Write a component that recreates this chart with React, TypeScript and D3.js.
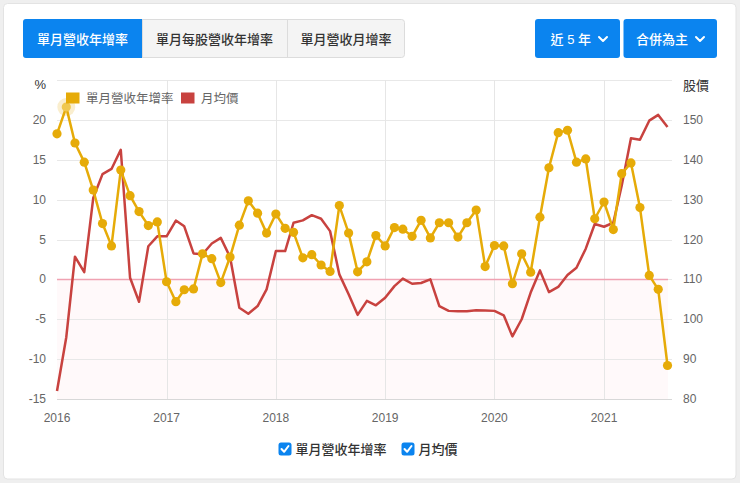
import React, { useEffect, useRef } from 'react';
import * as d3 from 'd3';

// 單月營收年增率 (%), Jan 2016 - Aug 2021
const revenueYoY = [
  18.25, 21.6, 17.1, 14.7, 11.2, 7.0, 4.2, 13.7, 10.5, 8.5, 6.75, 7.2,
  -0.3, -2.8, -1.3, -1.2, 3.2, 2.6, -0.4, 2.8, 6.8, 9.85, 8.3, 5.8,
  8.2, 6.4, 5.9, 2.7, 3.1, 1.8, 1.0, 9.25, 5.8, 0.95, 2.2, 5.5,
  4.2, 6.5, 6.3, 5.4, 7.4, 5.2, 7.1, 7.1, 5.3, 7.1, 8.7, 1.6,
  4.25, 4.2, -0.55, 3.2, 0.9, 7.8, 14.0, 18.4, 18.7, 14.7, 15.1, 7.6,
  9.7, 6.25, 13.25, 14.6, 9.0, 0.5, -1.25, -10.8,
];

// 月均價, Jan 2016 - Aug 2021
const monthlyPrice = [
  82, 95.5, 115.7, 111.8, 130.4, 136.4, 137.7, 142.5, 110.4, 104.4, 118.3, 120.8,
  120.8, 124.75, 123.3, 116.5, 116.3, 119, 120.4, 115.6, 102.9, 101.4, 103.3, 107.5,
  117.1, 117.1, 124.2, 124.8, 126.1, 125.2, 122.1, 111.25, 106.25, 101.1, 104.6, 103.5,
  105.4, 108.3, 110.2, 108.9, 109.1, 110, 103.3, 102.1, 102, 102, 102.25, 102.2,
  102.1, 101, 95.7, 100, 106.7, 112.25, 106.8, 108.1, 111.1, 112.9, 117.7, 123.9,
  123.2, 124.2, 133.5, 145.4, 145, 149.8, 151.25, 148.2,
];

const months = d3.timeMonth.range(new Date(2016, 0, 1), new Date(2021, 8, 1));
const yearTicks = [2016, 2017, 2018, 2019, 2020, 2021];
const leftTicks = [-15, -10, -5, 0, 5, 10, 15, 20];
const rightTicks = [80, 90, 100, 110, 120, 130, 140, 150];
const tabLabels = ['單月營收年增率', '單月每股營收年增率', '單月營收月增率'];
const dropdownLabels = ['近 5 年', '合併為主'];
const seriesNames = ['單月營收年增率', '月均價'];

const YELLOW = '#e6ab08';
const RED = '#c8423f';
const BLUE = '#0b84ef';
const FONT = "'Liberation Sans', 'Noto Sans CJK TC', sans-serif";

const App = () => {
  const svgRef = useRef<SVGSVGElement | null>(null);

  const W = 740;
  const H = 483;
  const plot = { left: 57, right: 668, top: 80, bottom: 399 };

  useEffect(() => {
    if (!svgRef.current) return;
    const svg = d3.select(svgRef.current);
    svg.selectAll('*').remove();
    svg.attr('font-family', FONT);

    // page + card
    svg.append('rect').attr('width', W).attr('height', H).attr('fill', '#efefef');
    svg
      .append('rect')
      .attr('x', 3.5)
      .attr('y', 3.5)
      .attr('width', 732.5)
      .attr('height', 475.5)
      .attr('rx', 4)
      .attr('fill', '#fff')
      .attr('stroke', '#e3e3e3');

    // tabs
    const tabEdges = [23, 142, 287, 405];
    const tabs = svg.append('g');
    tabs
      .append('rect')
      .attr('x', tabEdges[0] + 0.5)
      .attr('y', 19.5)
      .attr('width', tabEdges[3] - tabEdges[0] - 1)
      .attr('height', 38)
      .attr('rx', 3)
      .attr('fill', '#f4f4f4')
      .attr('stroke', '#dcdcdc');
    tabLabels.forEach((label, i) => {
      const x0 = tabEdges[i];
      const x1 = tabEdges[i + 1];
      if (i === 0) {
        tabs
          .append('path')
          .attr('d', `M${x0 + 3},19 H${x1} V58 H${x0 + 3} Q${x0},58 ${x0},55 V22 Q${x0},19 ${x0 + 3},19 Z`)
          .attr('fill', BLUE);
      } else {
        tabs
          .append('line')
          .attr('x1', x0 + 0.5)
          .attr('x2', x0 + 0.5)
          .attr('y1', 20)
          .attr('y2', 57)
          .attr('stroke', '#dcdcdc');
      }
      tabs
        .append('text')
        .attr('x', (x0 + x1) / 2)
        .attr('y', 39)
        .attr('text-anchor', 'middle')
        .attr('dominant-baseline', 'central')
        .attr('font-size', 13)
        .attr('font-weight', 500)
        .attr('fill', i === 0 ? '#fff' : '#333')
        .text(label);
    });

    // dropdowns
    const dropEdges = [
      [535, 620],
      [623.5, 717],
    ];
    dropdownLabels.forEach((label, i) => {
      const [x0, x1] = dropEdges[i];
      const g = svg.append('g');
      g.append('rect')
        .attr('x', x0)
        .attr('y', 19)
        .attr('width', x1 - x0)
        .attr('height', 39)
        .attr('rx', 3)
        .attr('fill', BLUE);
      const cx = x1 - 17;
      g.append('text')
        .attr('x', cx - 12)
        .attr('y', 39)
        .attr('text-anchor', 'end')
        .attr('dominant-baseline', 'central')
        .attr('font-size', 13)
        .attr('font-weight', 500)
        .attr('fill', '#fff')
        .text(label);
      g.append('path')
        .attr('d', `M${cx - 4},37 L${cx},41 L${cx + 4},37`)
        .attr('fill', 'none')
        .attr('stroke', '#fff')
        .attr('stroke-width', 2)
        .attr('stroke-linecap', 'round')
        .attr('stroke-linejoin', 'round');
    });

    // scales
    const x = d3
      .scaleTime()
      .domain([months[0], months[months.length - 1]])
      .range([plot.left, plot.right - 0.5]);
    const yLeft = d3.scaleLinear().domain([-15, 25]).range([plot.bottom, plot.top]);
    const yRight = d3.scaleLinear().domain([80, 160]).range([plot.bottom, plot.top]);

    const chart = svg.append('g');

    // negative zone fill
    chart
      .append('rect')
      .attr('x', plot.left)
      .attr('y', yLeft(0))
      .attr('width', plot.right - plot.left)
      .attr('height', plot.bottom - yLeft(0))
      .attr('fill', 'rgba(255, 80, 120, 0.035)');

    // horizontal grid
    chart
      .selectAll('line.hgrid')
      .data([...leftTicks, 25])
      .enter()
      .append('line')
      .attr('class', 'hgrid')
      .attr('x1', plot.left)
      .attr('x2', plot.right + 4)
      .attr('y1', (d) => Math.round(yLeft(d)) + 0.5)
      .attr('y2', (d) => Math.round(yLeft(d)) + 0.5)
      .attr('stroke', (d) => (d === -15 ? '#d8d8d8' : '#e8e8e8'))
      .attr('stroke-width', 1);

    // vertical year grid
    chart
      .selectAll('line.vgrid')
      .data(yearTicks.slice(1))
      .enter()
      .append('line')
      .attr('class', 'vgrid')
      .attr('x1', (d) => Math.round(x(new Date(d, 0, 1))) + 0.5)
      .attr('x2', (d) => Math.round(x(new Date(d, 0, 1))) + 0.5)
      .attr('y1', plot.top)
      .attr('y2', plot.bottom)
      .attr('stroke', '#e6e6e6');

    // zero line
    chart
      .append('line')
      .attr('x1', plot.left)
      .attr('x2', plot.right)
      .attr('y1', yLeft(0))
      .attr('y2', yLeft(0))
      .attr('stroke', '#f0a2b2')
      .attr('stroke-width', 1.5);

    // axis labels
    const tickStyle = (sel: d3.Selection<SVGTextElement, any, any, any>) =>
      sel.attr('font-size', 12).attr('fill', '#666');

    chart
      .selectAll('text.lt')
      .data(leftTicks)
      .enter()
      .append('text')
      .attr('class', 'lt')
      .attr('x', 46)
      .attr('y', (d) => yLeft(d) + 4)
      .attr('text-anchor', 'end')
      .text((d) => String(d))
      .call(tickStyle);
    chart
      .append('text')
      .attr('x', 46)
      .attr('y', 89)
      .attr('text-anchor', 'end')
      .text('%')
      .call(tickStyle)
      .attr('font-size', 13)
      .attr('fill', '#333');

    chart
      .selectAll('text.rt')
      .data(rightTicks)
      .enter()
      .append('text')
      .attr('class', 'rt')
      .attr('x', 683)
      .attr('y', (d) => yRight(d) + 4)
      .text((d) => String(d))
      .call(tickStyle);
    chart
      .append('text')
      .attr('x', 683)
      .attr('y', 90)
      .text('股價')
      .call(tickStyle)
      .attr('font-size', 13)
      .attr('fill', '#333');

    chart
      .selectAll('text.xt')
      .data(yearTicks)
      .enter()
      .append('text')
      .attr('class', 'xt')
      .attr('x', (d) => x(new Date(d, 0, 1)))
      .attr('y', 422)
      .attr('text-anchor', 'middle')
      .text((d) => String(d))
      .call(tickStyle);

    // price line
    const priceLine = d3
      .line<number>()
      .x((_, i) => x(months[i]))
      .y((d) => yRight(d));
    chart
      .append('path')
      .datum(monthlyPrice)
      .attr('d', priceLine)
      .attr('fill', 'none')
      .attr('stroke', RED)
      .attr('stroke-width', 2.5)
      .attr('stroke-linejoin', 'round');

    // revenue yoy line + markers
    const yoyLine = d3
      .line<number>()
      .x((_, i) => x(months[i]))
      .y((d) => yLeft(d));
    chart
      .append('path')
      .datum(revenueYoY)
      .attr('d', yoyLine)
      .attr('fill', 'none')
      .attr('stroke', YELLOW)
      .attr('stroke-width', 2.5)
      .attr('stroke-linejoin', 'round');

    const peak = d3.maxIndex(revenueYoY);
    chart
      .append('circle')
      .attr('cx', x(months[peak]))
      .attr('cy', yLeft(revenueYoY[peak]))
      .attr('r', 9)
      .attr('fill', YELLOW)
      .attr('opacity', 0.2);

    chart
      .selectAll('circle.pt')
      .data(revenueYoY)
      .enter()
      .append('circle')
      .attr('class', 'pt')
      .attr('cx', (_, i) => x(months[i]))
      .attr('cy', (d) => yLeft(d))
      .attr('r', 4.6)
      .attr('fill', (_, i) => (i === peak ? '#f0c850' : YELLOW));

    // legend
    const legend = svg.append('g');
    const legendItems = [
      { name: seriesNames[0], color: YELLOW, x: 66 },
      { name: seriesNames[1], color: RED, x: 181 },
    ];
    legendItems.forEach((item) => {
      legend
        .append('rect')
        .attr('x', item.x)
        .attr('y', 92.5)
        .attr('width', 13.5)
        .attr('height', 11)
        .attr('fill', item.color);
      legend
        .append('text')
        .attr('x', item.x + 20)
        .attr('y', 102.5)
        .attr('font-size', 12.5)
        .attr('fill', '#666')
        .text(item.name);
    });

    // bottom checkboxes
    const checks = [
      { name: seriesNames[0], x: 278.5 },
      { name: seriesNames[1], x: 401.5 },
    ];
    checks.forEach((c) => {
      const g = svg.append('g');
      g.append('rect')
        .attr('x', c.x)
        .attr('y', 442.5)
        .attr('width', 13)
        .attr('height', 13)
        .attr('rx', 2.5)
        .attr('fill', BLUE);
      g.append('path')
        .attr('d', `M${c.x + 3},${449} L${c.x + 5.6},${451.8} L${c.x + 10},${446}`)
        .attr('fill', 'none')
        .attr('stroke', '#fff')
        .attr('stroke-width', 2)
        .attr('stroke-linecap', 'round')
        .attr('stroke-linejoin', 'round');
      g.append('text')
        .attr('x', c.x + 17)
        .attr('y', 454)
        .attr('font-size', 13)
        .attr('font-weight', 500)
        .attr('fill', '#333')
        .text(c.name);
    });
  }, []);

  return (
    <div style={{ position: 'absolute', top: 0, left: 0, width: W, height: H }}>
      <svg ref={svgRef} width={W} height={H} />
    </div>
  );
};

export default App;
